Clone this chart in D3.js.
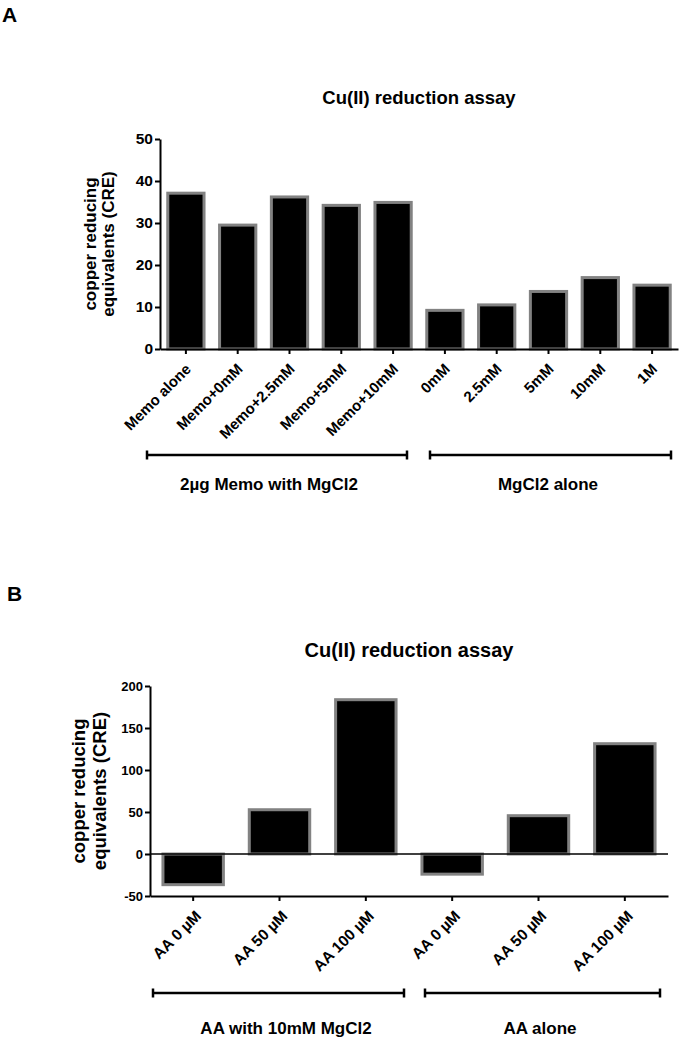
<!DOCTYPE html>
<html>
<head>
<meta charset="utf-8">
<script src="https://cdnjs.cloudflare.com/ajax/libs/d3/7.8.5/d3.min.js"></script>
<style>
  body { margin: 0; background: #fff; }
  text { font-family: "Liberation Sans", Arial, sans-serif; font-weight: bold; fill: #000; }
</style>
</head>
<body>
<div id="chart"></div>
<script>
// panel A data
var catsA = ["Memo alone", "Memo+0mM", "Memo+2.5mM", "Memo+5mM", "Memo+10mM",
             "0mM", "2.5mM", "5mM", "10mM", "1M"];
var valsA = [37.1, 29.5, 36.2, 34.2, 34.9, 9.2, 10.5, 13.7, 17.0, 15.2];
var ticksA = [0, 10, 20, 30, 40, 50];
var groupsA = ["2µg Memo with MgCl2", "MgCl2 alone"];

// panel B data
var catsB = ["AA 0 µM", "AA 50 µM", "AA 100 µM", "AA 0 µM ", "AA 50 µM ", "AA 100 µM "];
var valsB = [-36.5, 52.7, 183.7, -24, 45.6, 131.3];
var ticksB = [-50, 0, 50, 100, 150, 200];
var groupsB = ["AA with 10mM MgCl2", "AA alone"];

var width = 682, height = 1041;

var svg = d3.select("#chart")
  .append("svg")
  .attr("width", width)
  .attr("height", height);

function panel(opt) {
  var g = svg.append("g");

  var x = d3.scaleBand().domain(opt.cats).range(opt.xr).paddingInner(0.3).paddingOuter(0.15);
  var y = d3.scaleLinear().domain(opt.ydom).range(opt.yr);

  // panel letter
  g.append("text").attr("x", opt.letterPos[0]).attr("y", opt.letterPos[1])
    .attr("font-size", 21).text(opt.letter);

  // title
  g.append("text")
    .attr("x", (opt.xr[0] + opt.xr[1]) / 2)
    .attr("y", opt.titleY)
    .attr("text-anchor", "middle")
    .attr("font-size", opt.titleSize)
    .text("Cu(II) reduction assay");

  // y label, two lines
  var yl = g.append("text")
    .attr("transform", "translate(" + opt.ylabX + "," + ((opt.yr[0] + opt.yr[1]) / 2) + ") rotate(-90)")
    .attr("text-anchor", "middle")
    .attr("font-size", opt.ylabSize);
  yl.append("tspan").attr("x", 0).attr("dy", 0).text("copper reducing");
  yl.append("tspan").attr("x", 0).attr("dy", opt.ylabGap).text("equivalents (CRE)");

  // bars
  g.selectAll("rect.bar")
    .data(opt.vals)
    .enter().append("rect")
    .attr("class", "bar")
    .attr("x", (d, i) => x(opt.cats[i]))
    .attr("width", x.bandwidth())
    .attr("y", d => y(Math.max(0, d)))
    .attr("height", d => Math.abs(y(d) - y(0)))
    .attr("fill", "#000")
    .attr("stroke", "#828282")
    .attr("stroke-width", 3);

  // zero line (panel B)
  if (opt.ydom[0] < 0) {
    g.append("line")
      .attr("x1", opt.xr[0]).attr("x2", opt.xr[1])
      .attr("y1", y(0)).attr("y2", y(0))
      .attr("stroke", "#000").attr("stroke-width", 1.5);
  }

  // y axis
  var ya = g.append("g")
    .attr("transform", "translate(" + opt.xr[0] + ",0)")
    .call(d3.axisLeft(y).tickValues(opt.ticks).tickSize(5).tickSizeOuter(0).tickPadding(2)
      .tickFormat(d => String(d)));
  ya.selectAll("text").attr("font-size", opt.tickSize).style("font-family", null);

  // x axis at the bottom of the value range
  var xa = g.append("g")
    .attr("transform", "translate(0," + opt.yr[0] + ")")
    .call(d3.axisBottom(x).tickSize(5).tickSizeOuter(0));
  xa.selectAll("text").remove();

  [ya, xa].forEach(function(a) {
    a.select(".domain").attr("stroke-width", 2);
    a.selectAll(".tick line").attr("stroke-width", 2);
  });

  // rotated category labels
  g.selectAll("text.cat")
    .data(opt.cats)
    .enter().append("text")
    .attr("class", "cat")
    .attr("text-anchor", "end")
    .attr("font-size", opt.catSize)
    .attr("transform", d => "translate(" + (x(d) + x.bandwidth() / 2 + opt.catOff[0]) + "," +
      (opt.yr[0] + opt.catOff[1]) + ") rotate(-45)")
    .text(d => d.trim());

  // group brackets
  opt.brackets.forEach(function(b, i) {
    var bg = g.append("g").attr("stroke", "#000").attr("stroke-width", 2.5);
    bg.append("line").attr("x1", b[0]).attr("x2", b[1]).attr("y1", opt.brY).attr("y2", opt.brY);
    bg.append("line").attr("x1", b[0]).attr("x2", b[0]).attr("y1", opt.brY - 4.5).attr("y2", opt.brY + 4.5);
    bg.append("line").attr("x1", b[1]).attr("x2", b[1]).attr("y1", opt.brY - 4.5).attr("y2", opt.brY + 4.5);
    g.append("text")
      .attr("x", opt.groupX[i])
      .attr("y", opt.groupY)
      .attr("text-anchor", "middle")
      .attr("font-size", 17)
      .text(opt.groups[i]);
  });
}

panel({
  letter: "A", letterPos: [2, 22],
  cats: catsA, vals: valsA, ticks: ticksA, groups: groupsA,
  xr: [160, 678], yr: [349, 139], ydom: [0, 50],
  titleY: 104, titleSize: 18.5,
  ylabX: 96, ylabSize: 17, ylabGap: 17.5,
  tickSize: 15.5, catSize: 15,
  catOff: [6, 21],
  brackets: [[147, 407], [430, 671]], brY: 455,
  groupX: [269, 548], groupY: 490
});

panel({
  letter: "B", letterPos: [7, 601],
  cats: catsB, vals: valsB, ticks: ticksB, groups: groupsB,
  xr: [150, 668], yr: [896, 686], ydom: [-50, 200],
  titleY: 657, titleSize: 20,
  ylabX: 85, ylabSize: 18.5, ylabGap: 21,
  tickSize: 13, catSize: 15.5,
  catOff: [9, 21],
  brackets: [[153, 404], [425, 660]], brY: 993,
  groupX: [286, 540], groupY: 1034
});
</script>
</body>
</html>
